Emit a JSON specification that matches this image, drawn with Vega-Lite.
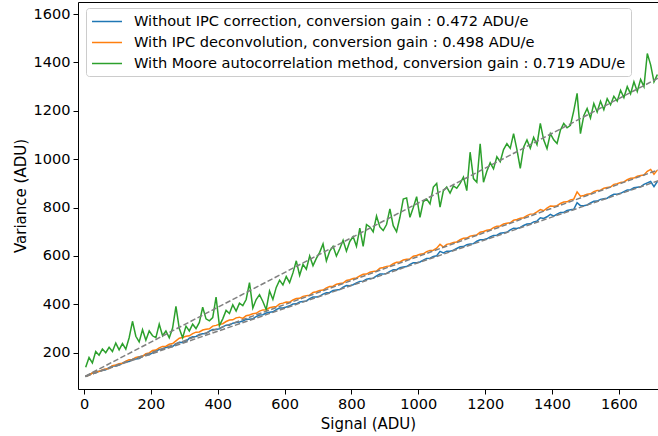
{
"$schema": "https://vega.github.io/schema/vega-lite/v6.json",
"width": 580, "height": 387,
"autosize": {"type": "none"},
"padding": {"left": 78, "top": 2, "right": 0, "bottom": 47},
"background": "white",
"config": {
  "font": "DejaVu Sans",
  "view": {"stroke": "black", "strokeWidth": 1},
  "axis": {"domain": false, "grid": false, "ticks": true, "tickColor": "black", "tickSize": 5, "tickWidth": 1, "labelColor": "black", "labelFontSize": 14.5, "labelPadding": 3, "titleFontSize": 15, "titleFontWeight": "normal", "titleColor": "black", "format": "d"}
},
"datasets": {
"d": [
{"x":5,"b":101,"o":104,"g":140},{"x":15,"b":109,"o":107,"g":180},{"x":25,"b":116,"o":116,"g":158},{"x":35,"b":117,"o":121,"g":205},{"x":45,"b":124,"o":122,"g":190},
{"x":55,"b":127,"o":130,"g":215},{"x":65,"b":129,"o":133,"g":200},{"x":75,"b":138,"o":135,"g":222},{"x":85,"b":145,"o":146,"g":205},{"x":95,"b":145,"o":149,"g":240},
{"x":105,"b":149,"o":154,"g":212},{"x":115,"b":156,"o":156,"g":238},{"x":125,"b":163,"o":165,"g":215},{"x":135,"b":164,"o":171,"g":262},{"x":145,"b":172,"o":172,"g":330},
{"x":155,"b":174,"o":180,"g":268},{"x":165,"b":176,"o":183,"g":245},{"x":175,"b":186,"o":185,"g":295},{"x":185,"b":192,"o":196,"g":252},{"x":195,"b":192,"o":199,"g":290},
{"x":205,"b":199,"o":209,"g":270},{"x":215,"b":207,"o":211,"g":262},{"x":225,"b":213,"o":220,"g":318},{"x":235,"b":214,"o":226,"g":270},{"x":245,"b":222,"o":227,"g":290},
{"x":255,"b":224,"o":235,"g":262},{"x":265,"b":226,"o":238,"g":302},{"x":275,"b":236,"o":249,"g":392},{"x":285,"b":243,"o":260,"g":300},{"x":295,"b":242,"o":263,"g":262},
{"x":305,"b":246,"o":268,"g":310},{"x":315,"b":260,"o":270,"g":290},{"x":325,"b":266,"o":279,"g":318},{"x":335,"b":267,"o":285,"g":300},{"x":345,"b":275,"o":286,"g":325},
{"x":355,"b":278,"o":294,"g":388},{"x":365,"b":279,"o":297,"g":340},{"x":375,"b":289,"o":299,"g":332},{"x":385,"b":296,"o":310,"g":345},{"x":395,"b":296,"o":313,"g":430},
{"x":405,"b":299,"o":318,"g":312},{"x":415,"b":307,"o":320,"g":340},{"x":425,"b":314,"o":329,"g":375},{"x":435,"b":314,"o":335,"g":362},{"x":445,"b":322,"o":336,"g":398},
{"x":455,"b":325,"o":344,"g":372},{"x":465,"b":327,"o":347,"g":405},{"x":475,"b":331,"o":342,"g":395},{"x":485,"b":338,"o":353,"g":420},{"x":495,"b":338,"o":356,"g":490},
{"x":505,"b":341,"o":361,"g":385},{"x":515,"b":349,"o":363,"g":420},{"x":525,"b":356,"o":372,"g":440},{"x":535,"b":357,"o":377,"g":412},{"x":545,"b":364,"o":378,"g":378},
{"x":555,"b":367,"o":386,"g":455},{"x":565,"b":369,"o":389,"g":420},{"x":575,"b":378,"o":391,"g":470},{"x":585,"b":385,"o":402,"g":500},{"x":595,"b":385,"o":405,"g":480},
{"x":605,"b":389,"o":410,"g":515},{"x":615,"b":394,"o":409,"g":490},{"x":625,"b":401,"o":418,"g":530},{"x":635,"b":402,"o":424,"g":580},{"x":645,"b":410,"o":425,"g":520},
{"x":655,"b":412,"o":433,"g":565},{"x":665,"b":414,"o":436,"g":545},{"x":675,"b":424,"o":438,"g":600},{"x":685,"b":430,"o":449,"g":560},{"x":695,"b":430,"o":452,"g":590},
{"x":705,"b":434,"o":457,"g":615},{"x":715,"b":442,"o":459,"g":650},{"x":725,"b":448,"o":468,"g":580},{"x":735,"b":449,"o":474,"g":620},{"x":745,"b":457,"o":475,"g":640},
{"x":755,"b":459,"o":483,"g":600},{"x":765,"b":461,"o":486,"g":630},{"x":775,"b":471,"o":488,"g":665},{"x":785,"b":478,"o":499,"g":620},{"x":795,"b":477,"o":502,"g":660},
{"x":805,"b":481,"o":507,"g":680},{"x":815,"b":489,"o":509,"g":640},{"x":825,"b":495,"o":518,"g":715},{"x":835,"b":496,"o":524,"g":640},{"x":845,"b":504,"o":525,"g":730},
{"x":855,"b":507,"o":533,"g":720},{"x":865,"b":508,"o":536,"g":700},{"x":875,"b":518,"o":538,"g":765},{"x":885,"b":525,"o":549,"g":720},{"x":895,"b":525,"o":552,"g":705},
{"x":905,"b":528,"o":557,"g":730},{"x":915,"b":536,"o":559,"g":795},{"x":925,"b":543,"o":568,"g":725},{"x":935,"b":543,"o":574,"g":700},{"x":945,"b":551,"o":575,"g":760},
{"x":955,"b":554,"o":583,"g":835},{"x":965,"b":556,"o":586,"g":840},{"x":975,"b":565,"o":588,"g":760},{"x":985,"b":572,"o":599,"g":800},{"x":995,"b":572,"o":602,"g":845},
{"x":1005,"b":575,"o":607,"g":760},{"x":1015,"b":583,"o":609,"g":825},{"x":1025,"b":590,"o":618,"g":835},{"x":1035,"b":591,"o":623,"g":815},{"x":1045,"b":598,"o":624,"g":885},
{"x":1055,"b":601,"o":632,"g":900},{"x":1065,"b":619,"o":648,"g":802},{"x":1075,"b":613,"o":637,"g":870},{"x":1085,"b":620,"o":648,"g":885},{"x":1095,"b":620,"o":651,"g":860},
{"x":1105,"b":624,"o":656,"g":890},{"x":1115,"b":631,"o":658,"g":880},{"x":1125,"b":638,"o":667,"g":900},{"x":1135,"b":639,"o":673,"g":926},{"x":1145,"b":647,"o":674,"g":870},
{"x":1155,"b":649,"o":682,"g":1029},{"x":1165,"b":651,"o":685,"g":920},{"x":1175,"b":661,"o":687,"g":905},{"x":1185,"b":667,"o":698,"g":1064},{"x":1195,"b":667,"o":701,"g":905},
{"x":1205,"b":671,"o":706,"g":950},{"x":1215,"b":679,"o":708,"g":985},{"x":1225,"b":685,"o":717,"g":960},{"x":1235,"b":686,"o":723,"g":1010},{"x":1245,"b":694,"o":724,"g":990},
{"x":1255,"b":696,"o":732,"g":1040},{"x":1265,"b":698,"o":735,"g":1064},{"x":1275,"b":708,"o":737,"g":1045},{"x":1285,"b":715,"o":748,"g":1106},{"x":1295,"b":714,"o":751,"g":1040},
{"x":1305,"b":718,"o":756,"g":962},{"x":1315,"b":726,"o":758,"g":1050},{"x":1325,"b":732,"o":767,"g":1080},{"x":1335,"b":733,"o":773,"g":1045},{"x":1345,"b":741,"o":774,"g":1090},
{"x":1355,"b":744,"o":782,"g":1060},{"x":1365,"b":758,"o":792,"g":1148},{"x":1375,"b":755,"o":787,"g":1080},{"x":1385,"b":762,"o":798,"g":1044},{"x":1395,"b":772,"o":807,"g":1106},
{"x":1405,"b":765,"o":806,"g":1080},{"x":1415,"b":773,"o":808,"g":1065},{"x":1425,"b":780,"o":817,"g":1120},{"x":1435,"b":780,"o":823,"g":1148},{"x":1445,"b":788,"o":824,"g":1130},
{"x":1455,"b":791,"o":832,"g":1140},{"x":1465,"b":793,"o":835,"g":1200},{"x":1475,"b":820,"o":865,"g":1272},{"x":1485,"b":808,"o":847,"g":1106},{"x":1495,"b":808,"o":850,"g":1180},
{"x":1505,"b":811,"o":855,"g":1210},{"x":1515,"b":819,"o":857,"g":1170},{"x":1525,"b":826,"o":866,"g":1230},{"x":1535,"b":827,"o":871,"g":1195},{"x":1545,"b":834,"o":872,"g":1240},
{"x":1555,"b":837,"o":880,"g":1205},{"x":1565,"b":839,"o":883,"g":1250},{"x":1575,"b":848,"o":885,"g":1225},{"x":1585,"b":855,"o":896,"g":1260},{"x":1595,"b":855,"o":899,"g":1240},
{"x":1605,"b":859,"o":904,"g":1285},{"x":1615,"b":866,"o":906,"g":1255},{"x":1625,"b":873,"o":915,"g":1300},{"x":1635,"b":874,"o":921,"g":1270},{"x":1645,"b":882,"o":922,"g":1320},
{"x":1655,"b":884,"o":930,"g":1280},{"x":1665,"b":886,"o":933,"g":1330},{"x":1675,"b":896,"o":935,"g":1300},{"x":1685,"b":902,"o":950,"g":1437},{"x":1695,"b":908,"o":958,"g":1390},
{"x":1705,"b":887,"o":938,"g":1320},{"x":1715,"b":908,"o":955,"g":1350}
],
"fit": [
{"s":"b","x":4,"y":102},{"s":"b","x":1720,"y":912},
{"s":"o","x":4,"y":102},{"s":"o","x":1720,"y":957},
{"s":"g","x":4,"y":103},{"s":"g","x":1720,"y":1337}
]
},
"layer": [
{
  "data": {"name": "d"},
  "transform": [{"fold": ["b", "o", "g"], "as": ["s", "v"]}],
  "mark": {"type": "line", "strokeWidth": 1.5, "clip": true},
  "encoding": {
    "x": {"field": "x", "type": "quantitative", "scale": {"domain": [-18, 1717], "nice": false, "zero": false},
          "axis": {"values": [0,200,400,600,800,1000,1200,1400,1600], "title": "Signal (ADU)", "titlePadding": 6}},
    "y": {"field": "v", "type": "quantitative", "scale": {"domain": [50, 1650], "nice": false, "zero": false},
          "axis": {"values": [200,400,600,800,1000,1200,1400,1600], "title": "Variance (ADU)", "titlePadding": 5}},
    "color": {"field": "s", "type": "nominal",
      "scale": {"domain": ["b", "o", "g"], "range": ["#1f77b4", "#ff7f0e", "#2ca02c"]},
      "legend": {"orient": "none", "legendX": 8, "legendY": 6, "title": null, "symbolType": "M-1,0H3", "symbolSize": 225, "symbolStrokeWidth": 1.5,
        "labelFontSize": 14.6, "labelColor": "black", "labelOffset": 26, "labelLimit": 0, "padding": 5, "rowPadding": 5,
        "strokeColor": "#cccccc", "fillColor": "rgba(255,255,255,0.8)", "cornerRadius": 3,
        "labelExpr": "datum.label == 'b' ? 'Without IPC correction, conversion gain : 0.472 ADU/e' : datum.label == 'o' ? 'With IPC deconvolution, conversion gain : 0.498 ADU/e' : 'With Moore autocorrelation method, conversion gain : 0.719 ADU/e'"}}
  }
},
{
  "data": {"name": "fit"},
  "mark": {"type": "line", "color": "gray", "strokeWidth": 1.5, "strokeDash": [5.5, 2.4], "clip": true},
  "encoding": {
    "x": {"field": "x", "type": "quantitative"},
    "y": {"field": "y", "type": "quantitative"},
    "detail": {"field": "s"}
  }
}
]
}
